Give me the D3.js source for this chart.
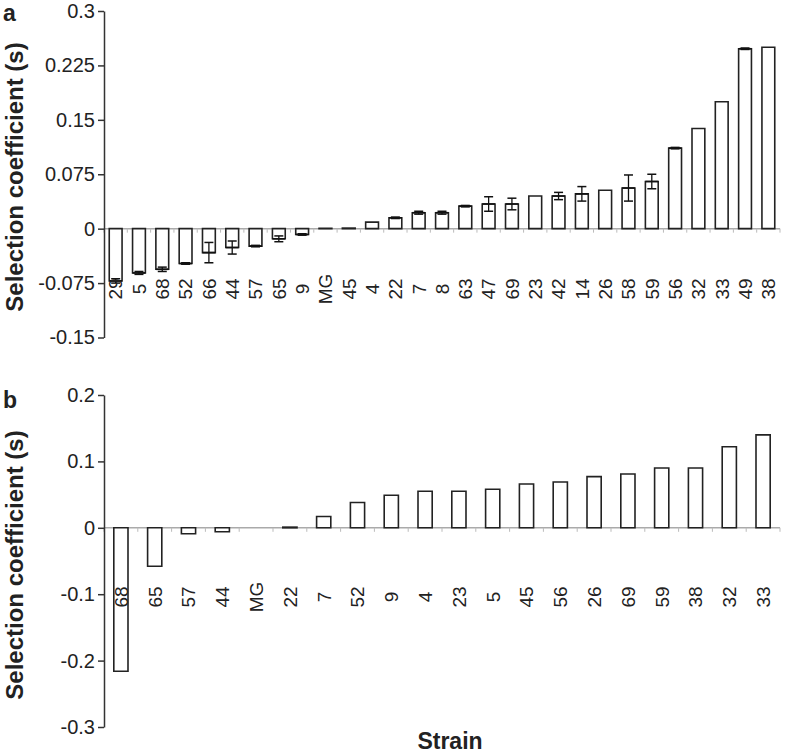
<!DOCTYPE html>
<html>
<head>
<meta charset="utf-8">
<script src="https://cdn.jsdelivr.net/npm/d3@7"></script>
<style>
  body { margin: 0; background: #fff; }
  svg { display: block; }
  text { font-family: "Liberation Sans", Arial, sans-serif; fill: #222; }
</style>
</head>
<body>
<svg id="chart" width="785" height="753"></svg>
<script>
// ---- Panel a data ----
const catsA = ["29","5","68","52","66","44","57","65","9","MG","45","4","22","7","8","63","47","69","23","42","14","26","58","59","56","32","33","49","38"];
const valsA = [-0.072,-0.061,-0.056,-0.048,-0.033,-0.026,-0.024,-0.014,-0.008,0.0005,0.0008,0.009,0.015,0.022,0.022,0.031,0.034,0.034,0.045,0.045,0.048,0.053,0.056,0.065,0.111,0.138,0.175,0.248,0.250];
const errA  = [0.003,0.002,0.003,0.001,0.014,0.009,0.001,0.004,0.001,0,0,0,0.001,0.002,0.002,0.001,0.010,0.008,0,0.005,0.010,0,0.018,0.010,0.001,0,0,0.001,0];
const ticksA = [0.3,0.225,0.15,0.075,0,-0.075,-0.15];
const tickLabelsA = ["0.3","0.225","0.15","0.075","0","-0.075","-0.15"];

// ---- Panel b data ----
const catsB = ["68","65","57","44","MG","22","7","52","9","4","23","5","45","56","26","69","59","38","32","33"];
const valsB = [-0.216,-0.058,-0.009,-0.006,0,0.001,0.017,0.038,0.049,0.055,0.055,0.058,0.066,0.069,0.077,0.081,0.090,0.090,0.122,0.140];
const errB  = valsB.map(() => 0);
const ticksB = [0.2,0.1,0,-0.1,-0.2,-0.3];
const tickLabelsB = ["0.2","0.1","0","-0.1","-0.2","-0.3"];

const yTitle = "Selection coefficient (s)";
const xTitle = "Strain";

const svg = d3.select("#chart");

function panel(opts) {
  const {cats, vals, errs, ticks, tickLabels, yDomain, yRange, xRange, pad, labelY, letter, letterY, titleY} = opts;
  const g = svg.append("g");
  const x = d3.scaleBand().domain(cats).range(xRange).paddingInner(pad).paddingOuter(pad / 2);
  const y = d3.scaleLinear().domain(yDomain).range(yRange);
  const y0 = y(0);

  // zero line with small gray ticks at band boundaries
  g.append("line")
    .attr("x1", xRange[0]).attr("x2", xRange[1])
    .attr("y1", y0).attr("y2", y0)
    .attr("stroke", "#aaa").attr("stroke-width", 1.5);
  const step = x.step();
  const bounds = d3.range(cats.length + 1).map(i => xRange[0] + i * step);
  g.selectAll("line.xt").data(bounds).join("line")
    .attr("class", "xt")
    .attr("x1", d => d).attr("x2", d => d)
    .attr("y1", y0).attr("y2", y0 + 4)
    .attr("stroke", "#bbb").attr("stroke-width", 1);

  // bars
  const data = cats.map((c, i) => ({c, v: vals[i], e: errs[i]})).filter(d => d.v !== 0);
  g.selectAll("path.bar").data(data).join("path")
    .attr("class", "bar")
    .attr("d", d => {
      const xl = x(d.c), xr = xl + x.bandwidth(), yv = y(d.v);
      return `M${xl},${y0}L${xl},${yv}L${xr},${yv}L${xr},${y0}Z`;
    })
    .attr("fill", "#fff").attr("stroke", "#222").attr("stroke-width", 1.6);

  // error bars
  const eb = data.filter(d => d.e > 0);
  const cap = 4.5;
  eb.forEach(d => {
    const cx = x(d.c) + x.bandwidth() / 2;
    const yt = y(d.v + d.e), yb = y(d.v - d.e);
    g.append("line").attr("x1", cx).attr("x2", cx).attr("y1", yt).attr("y2", yb)
      .attr("stroke", "#111").attr("stroke-width", 1.3);
    [yt, yb].forEach(yy => g.append("line")
      .attr("x1", cx - cap).attr("x2", cx + cap).attr("y1", yy).attr("y2", yy)
      .attr("stroke", "#111").attr("stroke-width", 1.5));
    g.append("line").attr("x1", x(d.c)).attr("x2", x(d.c) + x.bandwidth())
      .attr("y1", y(d.v)).attr("y2", y(d.v))
      .attr("stroke", "#111").attr("stroke-width", 1.6);
  });

  // y axis
  const axis = d3.axisLeft(y).tickValues(ticks)
    .tickFormat((d, i) => tickLabels[i]).tickSize(6).tickPadding(3).tickSizeOuter(0);
  const ag = g.append("g").attr("transform", `translate(${xRange[0]},0)`).call(axis);
  ag.select(".domain").attr("stroke", "#333").attr("stroke-width", 1.5);
  ag.selectAll(".tick line").attr("stroke", "#333").attr("stroke-width", 1.5);
  ag.selectAll(".tick text").attr("font-size", 20).attr("fill", "#222")
    .attr("font-family", "'Liberation Sans', Arial, sans-serif");

  // category labels
  g.selectAll("text.cat").data(cats).join("text")
    .attr("class", "cat")
    .attr("transform", d => `translate(${x(d) + x.bandwidth() / 2},${labelY}) rotate(-90)`)
    .attr("text-anchor", "middle").attr("dy", "0.36em")
    .attr("font-size", 19)
    .text(d => d);

  // y title
  g.append("text")
    .attr("transform", `translate(23,${titleY}) rotate(-90)`)
    .attr("text-anchor", "middle")
    .attr("font-size", 24).attr("font-weight", "bold")
    .text(yTitle);

  // panel letter
  g.append("text").attr("x", 3).attr("y", letterY)
    .attr("font-size", 23).attr("font-weight", "bold").text(letter);
}

panel({cats: catsA, vals: valsA, errs: errA, ticks: ticksA, tickLabels: tickLabelsA,
  yDomain: [-0.15, 0.3], yRange: [337.5, 11], xRange: [104, 780], pad: 0.45,
  labelY: 289, letter: "a", letterY: 21, titleY: 177});

panel({cats: catsB, vals: valsB, errs: errB, ticks: ticksB, tickLabels: tickLabelsB,
  yDomain: [-0.3, 0.2], yRange: [727, 395], xRange: [104, 780], pad: 0.58,
  labelY: 597, letter: "b", letterY: 408, titleY: 565});

svg.append("text").attr("x", 450).attr("y", 749)
  .attr("text-anchor", "middle").attr("font-size", 23).attr("font-weight", "bold")
  .text(xTitle);
</script>
</body>
</html>
